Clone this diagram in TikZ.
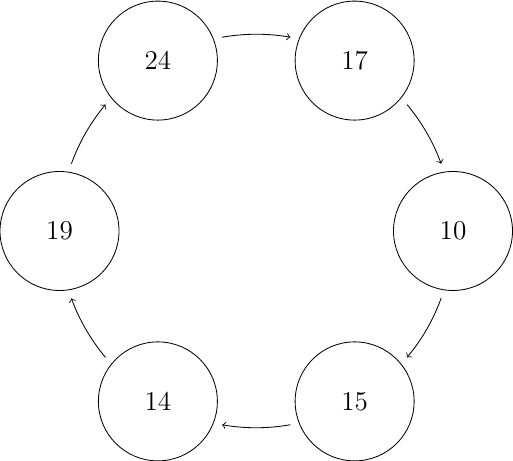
\documentclass[tikz,border=0pt]{standalone}
\usetikzlibrary{calc}
\begin{document}
\begin{tikzpicture}[x=0.4785pt,y=0.4785pt,
  numnode/.style={circle,draw,line width=0.4pt,minimum size=56.94pt,inner sep=0pt,font=\fontsize{13}{15}\selectfont},
  arr/.style={->,line width=0.4pt}]
\def\R{94.14pt}
\useasboundingbox (0,0) rectangle (513,461);
\coordinate (o) at (256.25,230);
\node[numnode] (n24) at ($(o)+(120:\R)$) {24};
\node[numnode] (n17) at ($(o)+(60:\R)$) {17};
\node[numnode] (n10) at ($(o)+(0:\R)$) {10};
\node[numnode] (n15) at ($(o)+(-60:\R)$) {15};
\node[numnode] (n14) at ($(o)+(-120:\R)$) {14};
\node[numnode] (n19) at ($(o)+(180:\R)$) {19};
\foreach \a in {100,40,-20,-80,-140,160}{
  \draw[arr] ($(o)+(\a:\R)$) arc[start angle=\a,delta angle=-20,radius=\R];
}
\end{tikzpicture}
\end{document}
